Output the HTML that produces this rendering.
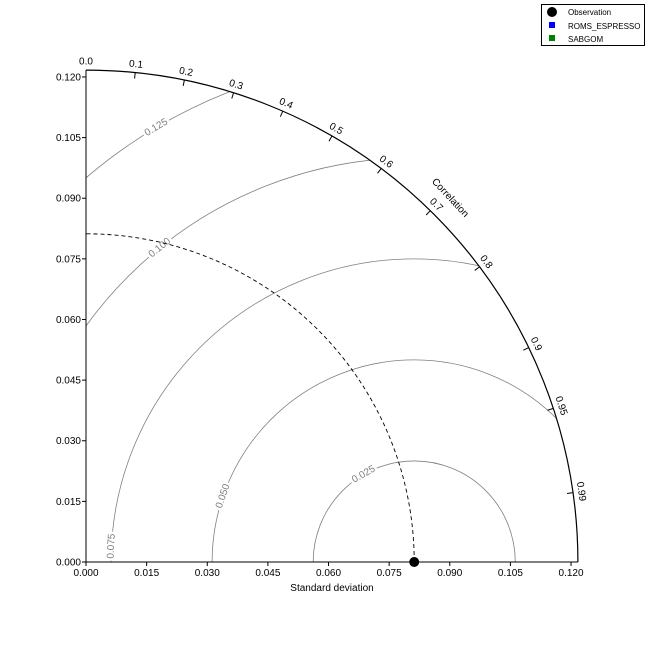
<!DOCTYPE html>
<html><head><meta charset="utf-8"><style>
html,body{margin:0;background:#fff;width:648px;height:648px;overflow:hidden}
svg{display:block;font-family:"Liberation Sans",sans-serif}
</style></head><body>
<svg id="chart" width="648" height="648" viewBox="0 0 648 648" xmlns="http://www.w3.org/2000/svg">
<defs><clipPath id="qc"><path id="qcp" d=""/></clipPath></defs>
<g id="contours" clip-path="url(#qc)"></g>
<g id="main"></g>
<g>
<rect x="541.5" y="4.5" width="103" height="41" fill="#fff" stroke="#000" stroke-width="1"/>
<circle cx="552" cy="12" r="5" fill="#000"/>
<text x="568" y="15" font-size="8">Observation</text>
<rect x="549" y="22" width="6" height="6" fill="#0000ff"/>
<text x="568" y="29" font-size="8">ROMS_ESPRESSO</text>
<rect x="549" y="35" width="6" height="6" fill="#008000"/>
<text x="568" y="42" font-size="8">SABGOM</text>
</g>
</svg>
<script>
const xTicks=[0,0.015,0.03,0.045,0.06,0.075,0.09,0.105,0.12];
const yTicks=[0,0.015,0.03,0.045,0.06,0.075,0.09,0.105,0.12];
const corrTicks=[0,0.1,0.2,0.3,0.4,0.5,0.6,0.7,0.8,0.9,0.95,0.99];
const rmsLevels=[0.025,0.05,0.075,0.1,0.125];
const rmsLabelAngles=[120,161,177,129,120.7];
const obsStd=0.0812;
const rMax=0.1217;
const cx=86,cy=562,s=4042;
const NS="http://www.w3.org/2000/svg";
const X=v=>cx+v*s, Y=v=>cy-v*s;
const main=document.getElementById('main'), cont=document.getElementById('contours');
function el(t,a,p){const e=document.createElementNS(NS,t);for(const k in a)e.setAttribute(k,a[k]);(p||main).appendChild(e);return e;}
const R=rMax*s;
document.getElementById('qcp').setAttribute('d',`M${cx},${cy} L${cx+R},${cy} A${R},${R} 0 0 0 ${cx},${cy-R} Z`);
rmsLevels.forEach((lv,i)=>{
  const c=el('circle',{cx:X(obsStd),cy:cy,r:lv*s,fill:'none',stroke:'#808080','stroke-width':0.8},cont);
  
  
  const a=rmsLabelAngles[i]*Math.PI/180;
  const lx=X(obsStd)+lv*s*Math.cos(a), ly=cy-lv*s*Math.sin(a);
  const rot=-(rmsLabelAngles[i]-90);
  const t=el('text',{x:lx,y:ly,'font-size':10,fill:'#808080','text-anchor':'middle','dominant-baseline':'middle',stroke:'#fff','stroke-width':5,'paint-order':'stroke',transform:`rotate(${rot} ${lx} ${ly})`},cont);
  t.textContent=lv.toFixed(3);
  
  
});
const ro=obsStd*s;
const d=el('path',{d:`M${cx+ro},${cy} A${ro},${ro} 0 0 0 ${cx},${cy-ro}`,fill:'none',stroke:'#000','stroke-dasharray':'4,3','stroke-width':0.9});


el('path',{d:`M${cx+R},${cy} A${R},${R} 0 0 0 ${cx},${cy-R}`,fill:'none',stroke:'#000','stroke-width':1.2});
el('line',{x1:cx,y1:cy,x2:cx+R,y2:cy,stroke:'#000'});
el('line',{x1:cx,y1:cy,x2:cx,y2:cy-R,stroke:'#000'});
xTicks.forEach(v=>{
  el('line',{x1:X(v),y1:cy,x2:X(v),y2:cy+4,stroke:'#000'});
  const t=el('text',{x:X(v),y:cy+14,'font-size':10,'text-anchor':'middle'});t.textContent=v.toFixed(3);
  
});
yTicks.forEach(v=>{
  el('line',{x1:cx-4,y1:Y(v),x2:cx,y2:Y(v),stroke:'#000'});
  const t=el('text',{x:cx-5,y:Y(v)+3.5,'font-size':10,'text-anchor':'end'});t.textContent=v.toFixed(3);
  
});
corrTicks.forEach(c=>{
  const a=Math.acos(c), ca=Math.cos(a), sa=Math.sin(a);
  el('line',{x1:cx+R*ca,y1:cy-R*sa,x2:cx+(R-6)*ca,y2:cy-(R-6)*sa,stroke:'#000'});
  const lr=R+8, lx=cx+lr*ca, ly=cy-lr*sa, rot=90-a*180/Math.PI;
  const t=el('text',{x:lx,y:ly,'font-size':10,'text-anchor':'middle','dominant-baseline':'middle',transform:`rotate(${rot} ${lx} ${ly})`});
  t.textContent=String(c===0?'0.0':c);
  
});
const cl=el('text',{x:450,y:198,'font-size':10,'text-anchor':'middle','dominant-baseline':'middle',transform:'rotate(47 450 198)'});cl.textContent='Correlation';

const xl=el('text',{x:332,y:591,'font-size':10,'text-anchor':'middle'});xl.textContent='Standard deviation';

const ob=el('circle',{cx:X(obsStd),cy:cy,r:5,fill:'#000'});

</script>
</body></html>
